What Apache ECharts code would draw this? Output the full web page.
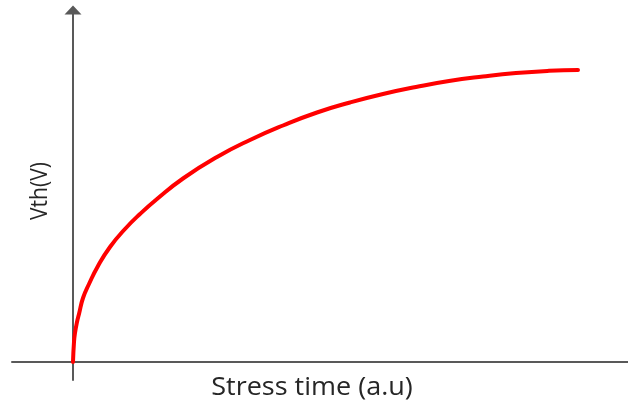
<!DOCTYPE html>
<html><head><meta charset="utf-8">
<script src="https://cdn.jsdelivr.net/npm/echarts@6/dist/echarts.min.js"></script>
<style>html,body{margin:0;padding:0;background:#fff}#c{width:628px;height:402px}</style>
</head><body><div id="c"></div>
<script>
// Stress time (a.u) vs Vth (a.u.)
const stressTime = [0, 1, 2, 4, 6, 10, 16, 25, 37, 52, 67, 84, 110, 144, 177, 210, 244, 277, 310, 343, 376, 410, 443, 476, 505];
const vth        = [0, 20, 29, 40, 48, 64, 78, 96, 115, 133, 148, 163, 183.5, 205, 222, 236.5, 249.5, 259.5, 268, 275, 281, 285.5, 289, 291.2, 292];
const xTitle = 'Stress time (a.u)';
const yTitle = 'Vth(V)';

const chart = echarts.init(document.getElementById('c'));
const axisCol = '#595959';
const textCol = '#262626';
chart.setOption({
  backgroundColor: '#ffffff',
  animation: false,
  grid: { left: 12, right: -6, top: 10, bottom: 22, containLabel: false, outerBoundsMode: 'none' },
  xAxis: {
    type: 'value', min: -61, max: 561,
    axisLine: { onZero: true, lineStyle: { color: axisCol, width: 2 }, symbol: ['none', 'triangle'], symbolSize: [17, 9] },
    axisTick: { show: false }, axisLabel: { show: false }, splitLine: { show: false }
  },
  yAxis: {
    type: 'value', min: -18, max: 352,
    axisLine: { onZero: true, lineStyle: { color: axisCol, width: 2 }, symbol: ['none', 'triangle'], symbolSize: [17, 9] },
    axisTick: { show: false }, axisLabel: { show: false }, splitLine: { show: false }
  },
  graphic: [
    { type: 'text', x: 312, y: 388, scaleX: 1.08,
      style: { text: xTitle, x: 0, y: 0, align: 'center', verticalAlign: 'middle', fill: textCol, font: '25px "Open Sans"' } },
    { type: 'text', x: 40, y: 191, rotation: Math.PI / 2, scaleY: 1.13,
      style: { text: yTitle, x: 0, y: 0, align: 'center', verticalAlign: 'middle', fill: textCol, font: '21px "Open Sans"' } }
  ],
  series: [{
    type: 'line', smooth: 0.5, showSymbol: false,
    data: stressTime.map((t, i) => [t, vth[i]]),
    lineStyle: { color: '#ff0000', width: 4, cap: 'round' }
  }]
});
</script></body></html>
